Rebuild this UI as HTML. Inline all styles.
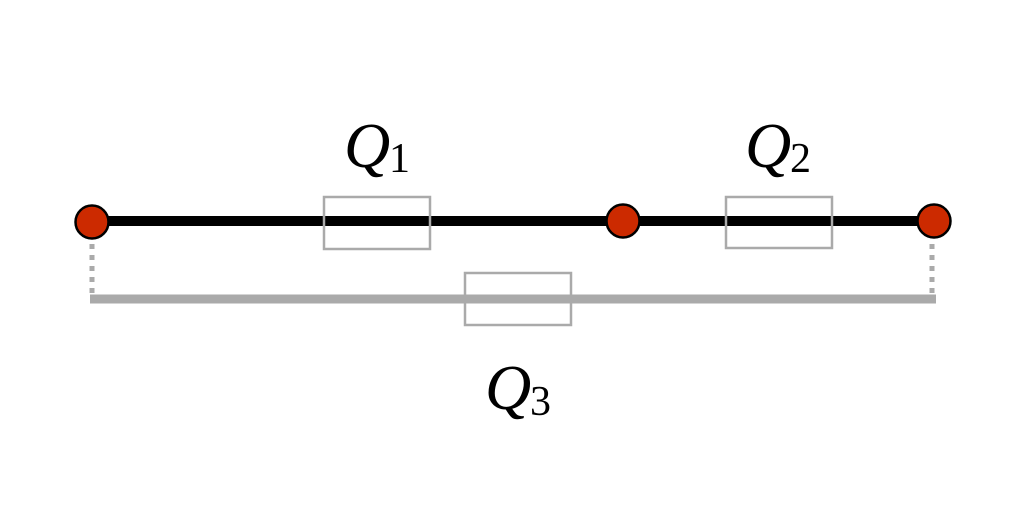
<!DOCTYPE html>
<html><head><style>html,body{margin:0;padding:0;background:#fff}svg{display:block}</style></head>
<body>
<svg width="1024" height="512" viewBox="0 0 1024 512" xmlns="http://www.w3.org/2000/svg">
<rect width="1024" height="512" fill="#fff"/>
<line x1="90" y1="299" x2="936" y2="299" stroke="#aaa" stroke-width="9"/>
<line x1="92" y1="244" x2="92" y2="294" stroke="#aaa" stroke-width="5" stroke-dasharray="5,6"/>
<line x1="932" y1="244" x2="932" y2="294" stroke="#aaa" stroke-width="5" stroke-dasharray="5,6"/>
<line x1="92" y1="221" x2="934" y2="221" stroke="#000" stroke-width="10"/>
<rect x="324" y="197" width="106" height="52" fill="none" stroke="#aaa" stroke-width="2.5"/>
<rect x="726" y="197" width="106" height="51" fill="none" stroke="#aaa" stroke-width="2.5"/>
<rect x="465" y="273" width="106" height="52" fill="none" stroke="#aaa" stroke-width="2.5"/>
<circle cx="92" cy="222" r="16.5" fill="#cc2a00" stroke="#000" stroke-width="2.5"/>
<circle cx="623" cy="221" r="16.5" fill="#cc2a00" stroke="#000" stroke-width="2.5"/>
<circle cx="934" cy="221" r="16.5" fill="#cc2a00" stroke="#000" stroke-width="2.5"/>
<g font-family="Liberation Serif, serif" fill="#000">
<text x="344" y="167" font-size="64" font-style="italic">Q</text><text x="389" y="172" font-size="42">1</text>
<text x="745" y="167" font-size="64" font-style="italic">Q</text><text x="790" y="172" font-size="42">2</text>
<text x="485" y="409" font-size="64" font-style="italic">Q</text><text x="530" y="415" font-size="42">3</text>
</g>
</svg>
</body></html>
